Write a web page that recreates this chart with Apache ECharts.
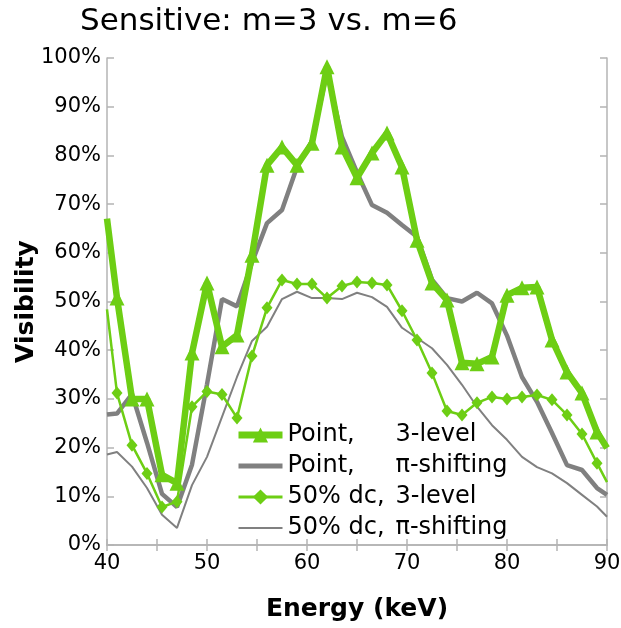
<!DOCTYPE html>
<html>
  <head>
    <meta charset="utf-8" />
    <title>Sensitive: m=3 vs. m=6</title>
    <script src="https://cdn.jsdelivr.net/npm/echarts@6/dist/echarts.min.js"></script>
  </head>
  <body style="margin:0">
    <div id="container" style="width: 621px;height: 628px;"></div>

    <script type="text/javascript">
    // energies (keV); 40 and 90 are the values where the curves meet the frame
    var energy = [40, 41, 42.5, 44, 45.5, 47, 48.5, 50, 51.5, 53, 54.5, 56, 57.5, 59, 60.5, 62, 63.5,
        65, 66.5, 68, 69.5, 71, 72.5, 74, 75.5, 77, 78.5, 80, 81.5, 83, 84.5, 86, 87.5, 89, 90];

    // visibility in %
    var point3 = [67, 50.7, 30, 30, 14.4, 12.7, 39.4, 53.8, 40.7, 43.1, 59.5, 78, 81.7, 78, 82.5, 98.2, 81.7,
        75.4, 80.5, 84.6, 77.6, 62.6, 53.8, 50.3, 37.4, 37.2, 38.6, 51.3, 52.8, 53, 42.1, 35.5, 31.2, 23.2, 19.9];
    var pointPi = [26.8, 27, 31, 21, 10.5, 7.8, 16.5, 33, 50.5, 49, 58, 66.1, 68.8, 77.6, 83, 97, 83.8,
        76.5, 69.8, 68.2, 65.7, 63.3, 54.5, 50.7, 50, 51.8, 49.6, 43, 34.5, 29.4, 23, 16.4, 15.4, 11.7, 10.3];
    var dc3 = [48.4, 31.2, 20.5, 14.7, 7.8, 8.9, 28.4, 31.5, 30.9, 26.1, 38.8, 48.7, 54.4, 53.6, 53.6, 50.7, 53.2,
        54, 53.8, 53.4, 48.1, 42.1, 35.3, 27.5, 26.7, 29.2, 30.4, 30, 30.4, 30.8, 29.8, 26.7, 22.8, 16.8, 12.9];
    var dcPi = [18.6, 19.1, 16.1, 11.7, 6.2, 3.5, 12.3, 18.1, 26.3, 34.5, 41.9, 44.8, 50.5, 52, 50.7, 50.7, 50.5,
        51.8, 50.9, 48.9, 44.6, 42.5, 40.4, 37, 32.9, 28.4, 24.6, 21.6, 18.1, 16, 14.7, 12.7, 10.3, 7.9, 5.8];

    var names = ['Point, 3-level', 'Point, \u03c0-shifting', '50% dc, 3-level', '50% dc, \u03c0-shifting'];

    // the edge points get no marker
    function pairs(vals) {
        return energy.map(function (e, i) {
            if (i === 0 || i === energy.length - 1) {
                return { value: [e, vals[i]], symbol: 'none' };
            }
            return [e, vals[i]];
        });
    }

    var green = '#6dce14';
    var gray = '#808080';
    var frame = '#b4b4b4';
    var font = 'DejaVu Sans';
    var noMarker = { color: 'rgba(0,0,0,0)', borderWidth: 0 };

    var myChart = echarts.init(document.getElementById('container'));
    var option = {
        animation: false,
        textStyle: { fontFamily: font },
        title: {
            text: 'Sensitive: m=3 vs. m=6',
            left: 75,
            top: 1,
            textStyle: { fontFamily: font, fontSize: 31, fontWeight: 'normal', color: '#000' }
        },
        grid: { left: 107, right: 14, top: 58, bottom: 83, outerBoundsMode: 'none' },
        legend: {
            data: [
                { name: names[0], lineStyle: { color: green, width: 7 } },
                { name: names[1], itemStyle: noMarker, lineStyle: { color: gray, width: 5 } },
                { name: names[2], lineStyle: { color: green, width: 3 } },
                { name: names[3], itemStyle: noMarker, lineStyle: { color: gray, width: 2 } }
            ],
            orient: 'vertical',
            left: 235,
            top: 423,
            padding: 0,
            itemWidth: 44,
            itemHeight: 19,
            itemGap: 7,
            textStyle: {
                fontFamily: font,
                fontSize: 24,
                color: '#000',
                rich: {
                    a: { width: 108, fontSize: 24, fontFamily: font, color: '#000', lineHeight: 24 },
                    b: { fontSize: 24, fontFamily: font, color: '#000', lineHeight: 24 }
                }
            },
            formatter: function (name) {
                var k = name.indexOf(', ');
                return '{a|' + name.slice(0, k + 1) + '}{b|' + name.slice(k + 2) + '}';
            }
        },
        xAxis: [{
            type: 'value',
            min: 40,
            max: 90,
            interval: 5,
            name: 'Energy (keV)',
            nameLocation: 'middle',
            nameGap: 52,
            nameMoveOverlap: false,
            nameTextStyle: { fontFamily: font, fontSize: 25, fontWeight: 'bold', color: '#000' },
            axisLine: { show: true, lineStyle: { color: frame, width: 1.5 } },
            axisTick: { inside: true, length: 6, lineStyle: { color: frame, width: 1.5 } },
            axisLabel: {
                fontSize: 21, color: '#000', margin: 8,
                formatter: function (v) { return v % 10 === 0 ? v : ''; }
            },
            splitLine: { show: false }
        }, {
            type: 'value',
            position: 'top',
            min: 40,
            max: 90,
            interval: 5,
            axisLine: { show: true, lineStyle: { color: frame, width: 1.5 } },
            axisTick: { inside: true, length: 6, lineStyle: { color: frame, width: 1.5 } },
            axisLabel: { show: false },
            splitLine: { show: false }
        }],
        yAxis: [{
            type: 'value',
            min: 0,
            max: 100,
            interval: 10,
            name: 'Visibility',
            nameLocation: 'middle',
            nameGap: 68,
            nameMoveOverlap: false,
            nameTextStyle: { fontFamily: font, fontSize: 25, fontWeight: 'bold', color: '#000' },
            axisLine: { show: true, lineStyle: { color: frame, width: 1.5 } },
            axisTick: { inside: true, length: 7, lineStyle: { color: frame, width: 1.5 } },
            axisLabel: { fontSize: 21, color: '#000', margin: 6, formatter: '{value}%' },
            splitLine: { show: false }
        }, {
            type: 'value',
            position: 'right',
            min: 0,
            max: 100,
            interval: 10,
            axisLine: { show: true, lineStyle: { color: frame, width: 1.5 } },
            axisTick: { inside: true, length: 7, lineStyle: { color: frame, width: 1.5 } },
            axisLabel: { show: false },
            splitLine: { show: false }
        }],
        series: [
            {
                name: names[3],
                type: 'line',
                data: pairs(dcPi),
                symbol: 'none',
                lineStyle: { color: gray, width: 2 },
                itemStyle: { color: gray }
            },
            {
                name: names[1],
                type: 'line',
                data: pairs(pointPi),
                symbol: 'none',
                lineStyle: { color: gray, width: 4.5 },
                itemStyle: { color: gray }
            },
            {
                name: names[2],
                type: 'line',
                data: pairs(dc3),
                symbol: 'diamond',
                symbolSize: [11, 13],
                lineStyle: { color: green, width: 2.5 },
                itemStyle: { color: green }
            },
            {
                name: names[0],
                type: 'line',
                data: pairs(point3),
                symbol: 'triangle',
                symbolSize: 15,
                lineStyle: { color: green, width: 6.5 },
                itemStyle: { color: green }
            }
        ]
    };
    myChart.setOption(option);

    window.addEventListener('resize', myChart.resize);
    </script>
  </body>
</html>
